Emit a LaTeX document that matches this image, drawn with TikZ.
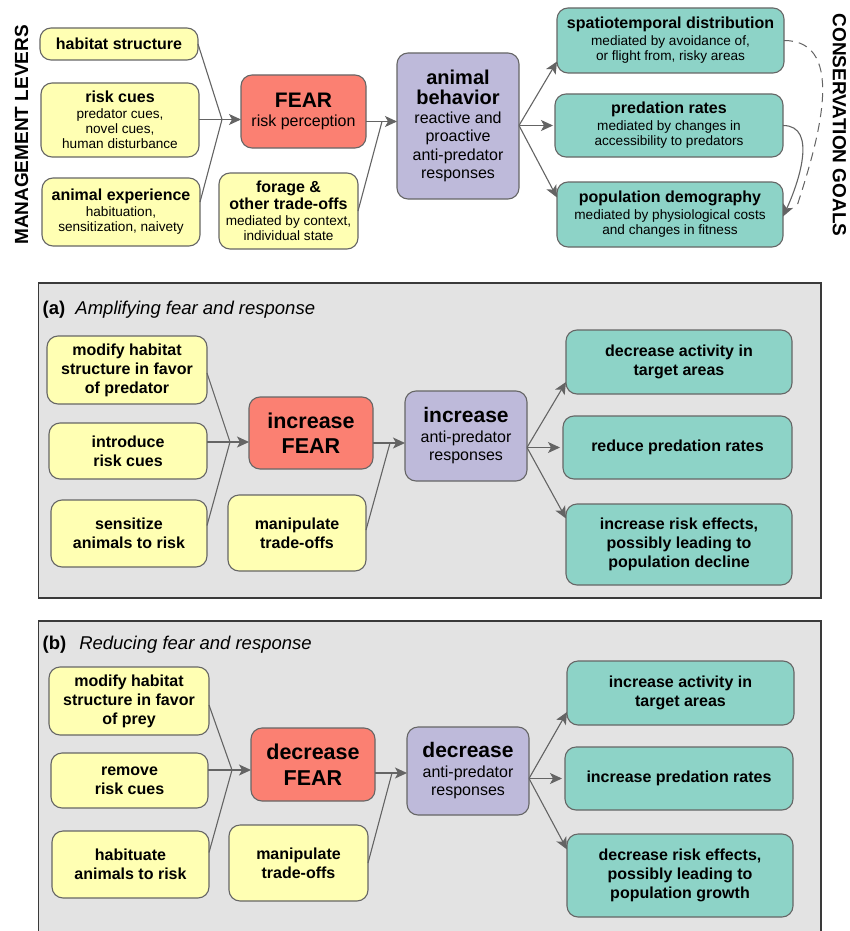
\documentclass[tikz,border=0pt]{standalone}
\usepackage{fontspec}
\setmainfont{Liberation Sans}
\usetikzlibrary{arrows.meta}
\definecolor{ylw}{HTML}{FFFFB3}
\definecolor{sal}{HTML}{FB8072}
\definecolor{pur}{HTML}{BEBADA}
\definecolor{tea}{HTML}{8DD3C7}
\definecolor{bordergray}{HTML}{666666}
\definecolor{arrowgray}{HTML}{646464}
\definecolor{panelgray}{HTML}{E3E3E3}
\definecolor{panelborder}{HTML}{3A3A3A}
\newcommand{\fs}[2]{\fontsize{#1}{#2}\selectfont}
\tikzset{
 box/.style={rounded corners=11pt, draw=bordergray, line width=1.1pt, inner sep=0pt, outer sep=0pt, align=center},
 ybox/.style={box, fill=ylw},
 rbox/.style={box, fill=sal},
 pbox/.style={box, fill=pur},
 gbox/.style={box, fill=tea},
 conn/.style={draw=arrowgray, line width=1.1pt},
 arr/.style={conn, -{Stealth[length=12pt,width=11pt,inset=3pt]}},
 panel/.style={fill=panelgray, draw=panelborder, line width=1.3pt},
 topsub/.style={font=\fs{13.6}{15.4}},
 pyel/.style={ybox, font=\fs{16}{19}\bfseries},
 pgrn/.style={gbox, font=\fs{16}{19}\bfseries},
 pfear/.style={rbox, font=\fs{21.5}{25.5}\bfseries},
 pbeh/.style={pbox, font=\fs{16}{18.5}},
 vlabel/.style={font=\fs{19}{19}\bfseries, inner sep=0pt},
 plabel/.style={anchor=base west, inner sep=0pt, font=\fs{18.5}{20}},
}
\begin{document}
\begin{tikzpicture}[x=1pt,y=-1pt]
\useasboundingbox (0,0) rectangle (850,931);
\fill[white] (0,0) rectangle (850,931);

% ---------- top section ----------
\node[vlabel, rotate=90] (ml) at (21.5,135) {MANAGEMENT LEVERS};
\node[vlabel, rotate=-90] (cg) at (839.5,125) {CONSERVATION GOALS};

\node[ybox, topsub, minimum width=158pt, minimum height=32pt] (hs) at (119,44) {{\fs{16}{18}\bfseries habitat structure}};
\node[ybox, topsub, minimum width=158pt, minimum height=74pt] (rc) at (120,120) {{\fs{16}{18}\bfseries risk cues}\\predator cues,\\novel cues,\\human disturbance};
\node[ybox, topsub, minimum width=158pt, minimum height=68pt] (ae) at (121,212) {{\fs{16}{18}\bfseries animal experience}\\habituation,\\sensitization, naivety};
\node[rbox, font=\fs{16}{19.5}, minimum width=125pt, minimum height=73pt] (fear) at (303.5,111.5) {{\fs{21}{25}\bfseries FEAR}\\risk perception};
\node[ybox, topsub, minimum width=139pt, minimum height=76pt] (fo) at (288.5,211) {{\fs{16}{18}\bfseries forage \&}\\[1.5pt]{\fs{16}{18}\bfseries other trade-offs}\\mediated by context,\\individual state};
\node[pbox, font=\fs{16}{18.5}, minimum width=122pt, minimum height=146pt] (beh) at (458,126) {{\fs{20}{20}\bfseries animal}\\[1pt]{\fs{20}{20}\bfseries behavior}\\[0.5pt]reactive and\\proactive\\anti-predator\\responses};
\node[gbox, topsub, minimum width=227pt, minimum height=65pt] (sp) at (670.5,40.5) {{\fs{16}{18}\bfseries spatiotemporal distribution}\\[1pt]mediated by avoidance of,\\or flight from, risky areas};
\node[gbox, topsub, minimum width=228pt, minimum height=63pt] (pr) at (669,125.5) {{\fs{16}{18}\bfseries predation rates}\\[1pt]mediated by changes in\\accessibility to predators};
\node[gbox, topsub, minimum width=226pt, minimum height=65pt] (pd) at (670,214.5) {{\fs{16}{18}\bfseries population demography}\\[1pt]mediated by physiological costs\\and changes in fitness};

\coordinate (j1) at (222,119.5);
\draw[conn] (hs.east) -- (j1);
\draw[conn] ([yshift=10pt]ae.east) -- (j1);
\draw[arr] (j1 -| rc.east) -- (j1 -| fear.west);
\coordinate (j2) at (382,121.5);
\draw[conn] (fo.east) -- (j2);
\draw[arr] (j2 -| fear.east) -- (j2 -| beh.west);
\coordinate (bo) at (beh.east |- pr.west);
\draw[arr] (bo) -- ([yshift=-21pt]sp.west);
\draw[arr] (bo) -- ([xshift=-2pt]pr.west);
\draw[arr] (bo) -- ([yshift=17pt]pd.west);
\draw[arr] (pr.east) to[out=0, in=65] ([yshift=-2pt]pd.east);
\coordinate (dend) at (797,206);
\draw[conn, line width=1pt, dash pattern=on 9pt off 6pt] (sp.east) to[out=0, in=72, looseness=1] (dend);

% ---------- panel (a) ----------
\draw[panel] (38.5,283) rectangle (821,598);
\node[plabel] (la) at (42.5,314) {\textbf{(a)}\hspace{0.55em}\textit{Amplifying fear and response}};

\node[pyel, minimum width=160pt, minimum height=68pt] (a1) at (127,370) {modify habitat\\structure in favor\\of predator};
\node[pyel, minimum width=158pt, minimum height=56pt] (a2) at (128,451) {introduce\\risk cues};
\node[pyel, minimum width=156pt, minimum height=67pt] (a3) at (129,533.5) {sensitize\\animals to risk};
\node[pfear, minimum width=124pt, minimum height=72pt] (aF) at (311,433) {increase\\FEAR};
\node[pyel, minimum width=138pt, minimum height=76pt] (aM) at (297,533) {manipulate\\trade-offs};
\node[pbeh, minimum width=122pt, minimum height=90pt] (aB) at (466,436) {{\fs{21}{21}\bfseries increase}\\[1pt]anti-predator\\responses};
\node[pgrn, minimum width=226pt, minimum height=64pt] (ag1) at (679,362) {decrease activity in\\target areas};
\node[pgrn, minimum width=229pt, minimum height=63pt] (ag2) at (677.5,447.5) {reduce predation rates};
\node[pgrn, minimum width=226pt, minimum height=81pt] (ag3) at (679,544.5) {increase risk effects,\\possibly leading to\\population decline};

\coordinate (ja) at (230,442);
\draw[conn] ([yshift=-3pt]a1.east) -- (ja);
\draw[conn] ([yshift=8pt]a3.east) -- (ja);
\draw[arr] (ja -| a2.east) -- (ja -| aF.west);
\coordinate (ja2) at (390,443);
\draw[conn] ([yshift=3pt]aM.east) -- (ja2);
\draw[arr] (ja2 -| aF.east) -- (ja2 -| aB.west);
\coordinate (ao) at (aB.east |- ag2.west);
\draw[arr] (ao) -- ([yshift=-20pt]ag1.west);
\draw[arr] (ao) -- ([xshift=-3pt]ag2.west);
\draw[arr] (ao) -- ([yshift=26pt]ag3.west);

% ---------- panel (b) ----------
\draw[panel] (38.5,950) -- (38.5,621) -- (821,621) -- (821,950);
\fill[panelgray] (39.2,621.7) rectangle (820.3,950);
\node[plabel] (lb) at (42.5,649) {\textbf{(b)}\hspace{0.7em}\textit{Reducing fear and response}};

\node[pyel, minimum width=160pt, minimum height=68pt] (b1) at (129,701) {modify habitat\\structure in favor\\of prey};
\node[pyel, minimum width=157pt, minimum height=55pt] (b2) at (129.5,780.5) {remove\\risk cues};
\node[pyel, minimum width=157pt, minimum height=67pt] (b3) at (130.5,864.5) {habituate\\animals to risk};
\node[pfear, minimum width=124pt, minimum height=73pt] (bF) at (313,764.5) {decrease\\FEAR};
\node[pyel, minimum width=139pt, minimum height=76pt] (bM) at (298.5,863) {manipulate\\trade-offs};
\node[pbeh, minimum width=122pt, minimum height=88pt] (bB) at (468,771) {{\fs{21}{21}\bfseries decrease}\\[1pt]anti-predator\\responses};
\node[pgrn, minimum width=227pt, minimum height=64pt] (bg1) at (680.5,693) {increase activity in\\target areas};
\node[pgrn, minimum width=228pt, minimum height=63pt] (bg2) at (679,778.5) {increase predation rates};
\node[pgrn, minimum width=226pt, minimum height=83pt] (bg3) at (680,875.5) {decrease risk effects,\\possibly leading to\\population growth};

\coordinate (jb) at (232,770);
\draw[conn] ([yshift=-4pt]b1.east) -- (jb);
\draw[conn] ([yshift=12pt]b3.east) -- (jb);
\draw[arr] (jb -| b2.east) -- (jb -| bF.west);
\coordinate (jb2) at (392,773);
\draw[conn] (bM.east) -- (jb2);
\draw[arr] (jb2 -| bF.east) -- (jb2 -| bB.west);
\coordinate (bo2) at (bB.east |- bg2.west);
\draw[arr] (bo2) -- ([yshift=-19pt]bg1.west);
\draw[arr] (bo2) -- ([xshift=-3pt]bg2.west);
\draw[arr] (bo2) -- ([yshift=26pt]bg3.west);
\end{tikzpicture}
\end{document}
